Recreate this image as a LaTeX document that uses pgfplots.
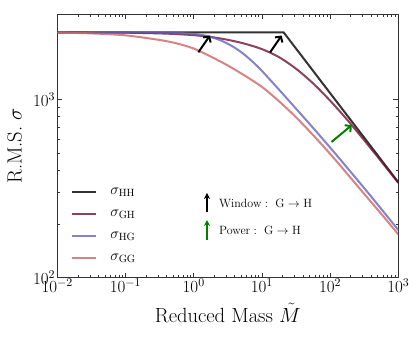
\RequirePackage{fix-cm}
\documentclass[border=0pt]{standalone}
\usepackage{pgfplots}
\pgfplotsset{compat=1.18}
\usetikzlibrary{arrows.meta}
\definecolor{cHH}{RGB}{0,0,0}
\definecolor{cGH}{RGB}{110,20,50}
\definecolor{cHG}{RGB}{100,100,190}
\definecolor{cGG}{RGB}{205,100,100}
\definecolor{cgreen}{RGB}{0,128,0}
\begin{document}
\begin{tikzpicture}
\useasboundingbox (-57.3pt,-59.3pt) rectangle (357.7pt,277.7pt);
\begin{axis}[
  at={(0,0)}, anchor=south west,
  scale only axis, width=341pt, height=263.4pt,
  xmode=log, ymode=log,
  xmin=0.01, xmax=1000, ymin=100, ymax=3000,
  xtick={0.01,0.1,1,10,100,1000},
  ytick={100,1000},
  tick align=inside, xtick pos=both, ytick pos=both,
  major tick length=5pt, minor tick length=2.5pt,
  axis line style={line width=1pt, black!80},
  tick style={line width=0.6pt, black!80},
  tick label style={font=\fontsize{17}{20}\selectfont},
  xticklabel style={inner sep=0pt, yshift=-1pt},
  yticklabel style={inner sep=2pt},
  xlabel={Reduced Mass $\tilde{M}$},
  ylabel={R.M.S. $\sigma$},
  label style={font=\fontsize{20.5}{24}\selectfont},
  x label style={at={(axis description cs:0.5,-0.134)}, anchor=center},
  y label style={at={(axis description cs:-0.1255,0.5)}, anchor=center},
  legend image code/.code={\draw[#1] (0pt,0pt) -- (24pt,0pt);},
  legend cell align=left,
  legend style={at={(rel axis cs:0.032,0.045)}, anchor=south west, draw=none, fill=none,
    font=\fontsize{15}{18}\selectfont, row sep=10pt, column sep=11pt,
    nodes={inner sep=2pt}},
  every axis plot/.append style={line width=2pt, draw opacity=0.8},
]
\addplot[cHH, sharp plot] coordinates {
 (0.01,2377) (20.8,2377) (1000,343)};
\addlegendentry{$\sigma_{\mathrm{HH}}$}
\addplot[cGH, smooth] coordinates {
 (0.01,2377) (0.03162,2371) (0.1,2366) (0.3162,2344) (0.5623,2323)
 (1,2291) (1.778,2239) (3.162,2158) (5.623,2051) (10,1914)
 (17.78,1726) (31.62,1486) (56.23,1230) (100,984) (177.8,769)
 (316.2,590) (562.3,449) (1000,340)};
\addlegendentry{$\sigma_{\mathrm{GH}}$}
\addplot[cHG, smooth] coordinates {
 (0.01,2377) (0.03162,2377) (0.1,2376) (0.3162,2371) (0.5623,2360)
 (1,2328) (1.334,2296) (1.778,2239) (2.371,2158) (3.162,2051)
 (4.217,1923) (5.623,1774) (7.499,1611) (10,1445)
 (17.78,1135) (31.62,887) (56.23,692) (100,537) (177.8,414)
 (316.2,318) (562.3,243) (1000,185)};
\addlegendentry{$\sigma_{\mathrm{HG}}$}
\addplot[cGG, smooth] coordinates {
 (0.01,2371) (0.03162,2344) (0.1,2286) (0.3162,2153) (0.5623,2061)
 (1,1928) (1.778,1738) (3.162,1549) (5.623,1358) (10,1175)
 (17.78,977) (31.62,794) (56.23,631) (100,495) (177.8,383)
 (316.2,295) (562.3,228) (1000,175)};
\addlegendentry{$\sigma_{\mathrm{GG}}$}
\draw[black, line width=2pt, -{Straight Barb[length=4pt,width=9pt]}] (axis cs:1.17,1837) -- (axis cs:1.73,2280);
\draw[black, line width=2pt, -{Straight Barb[length=4pt,width=9pt]}] (axis cs:13.2,1837) -- (axis cs:19.5,2280);
\draw[cgreen, line width=2pt, -{Straight Barb[length=4pt,width=9pt]}] (axis cs:105,577) -- (axis cs:207,716);
\draw[black, line width=1.5pt, -{Stealth[length=6pt,width=6pt]}] (rel axis cs:0.439,0.249) -- (rel axis cs:0.439,0.3216);
\draw[cgreen, line width=1.5pt, -{Stealth[length=6pt,width=6pt]}] (rel axis cs:0.439,0.143) -- (rel axis cs:0.439,0.219);
\node[anchor=west, inner sep=0pt, font=\fontsize{12}{14}\selectfont] at (rel axis cs:0.474,0.282) {$\mathrm{Window:\ G\rightarrow H}$};
\node[anchor=west, inner sep=0pt, font=\fontsize{12}{14}\selectfont] at (rel axis cs:0.474,0.178) {$\mathrm{Power:\ G\rightarrow H}$};
\end{axis}
\end{tikzpicture}
\end{document}
